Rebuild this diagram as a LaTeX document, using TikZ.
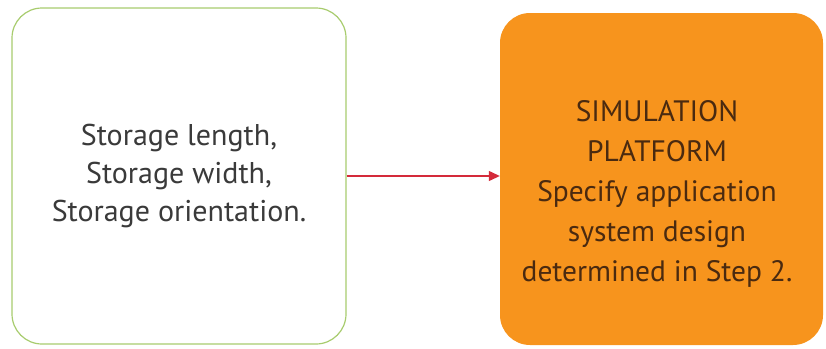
\documentclass[tikz,border=0pt]{standalone}
\usepackage{fontspec}
\setmainfont{PT Sans}
\usetikzlibrary{arrows.meta}
\definecolor{boxgreen}{HTML}{A8CC6E}
\definecolor{boxorange}{HTML}{F7941D}
\definecolor{arrowred}{HTML}{D42A3A}
\definecolor{txtgray}{HTML}{3A3A3A}
\definecolor{txtbrown}{HTML}{4A2A10}
\tikzset{
  inputbox/.style={draw=boxgreen, line width=1.2pt, fill=white, rounded corners=30pt,
    minimum width=334pt, minimum height=336pt, align=center, text=txtgray,
    font=\fontsize{30}{38}\selectfont},
  platformbox/.style={draw=none, fill=boxorange, rounded corners=30pt,
    minimum width=323pt, minimum height=332pt},
  platformtext/.style={align=center, text=txtbrown, font=\fontsize{29.5}{40}\selectfont},
  flow/.style={draw=arrowred, line width=1.3pt, -{Triangle[length=11pt,width=10pt]}}
}
\begin{document}
\begin{tikzpicture}[x=1pt,y=-1pt]
  \useasboundingbox (0,0) rectangle (826,348);
  \node[inputbox] (inp) at (179,176) {Storage length,\\Storage width,\\Storage orientation.};
  \node[platformbox] (sim) at (661.5,179) {};
  \node[platformtext] (simtext) at (657,194)
    {SIMULATION\\PLATFORM\\Specify application\\system design\\determined in Step 2.};
  \draw[flow] (inp.east |- 0,176) -- (sim.west |- 0,176);
\end{tikzpicture}
\end{document}
